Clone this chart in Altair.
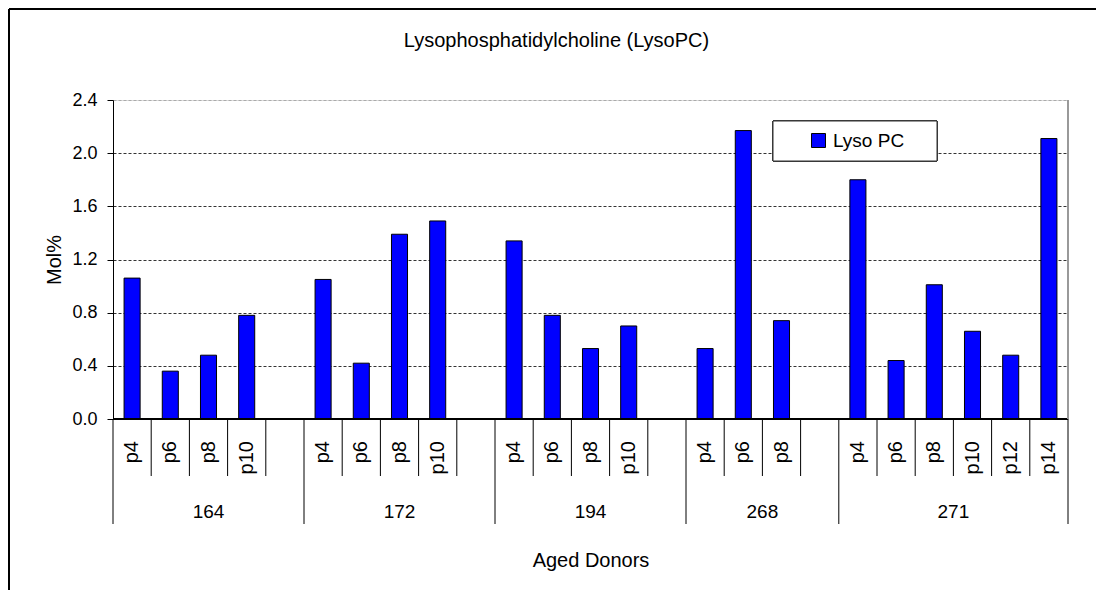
import altair as alt
import pandas as pd

# ---------------- data ----------------
donors = ["164", "172", "194", "268", "271"]
passages = [
    ["p4", "p6", "p8", "p10"],
    ["p4", "p6", "p8", "p10"],
    ["p4", "p6", "p8", "p10"],
    ["p4", "p6", "p8"],
    ["p4", "p6", "p8", "p10", "p12", "p14"],
]
lyso_pc = [
    [1.06, 0.36, 0.48, 0.78],
    [1.05, 0.42, 1.39, 1.49],
    [1.34, 0.78, 0.53, 0.70],
    [0.53, 2.17, 0.74],
    [1.80, 0.44, 1.01, 0.66, 0.48, 2.11],
]
y_ticks = [0.0, 0.4, 0.8, 1.2, 1.6, 2.0, 2.4]
series_name = "Lyso PC"
chart_title = "Lysophosphatidylcholine (LysoPC)"
x_title = "Aged Donors"
y_title = "Mol%"

# ---------------- tables built from the lists ----------------
slot_rows, group_rows = [], []
pos = 0
for gi, (d, ps, vs) in enumerate(zip(donors, passages, lyso_pc)):
    start = pos
    for p, v in zip(ps, vs):
        slot_rows.append({"pos": pos, "donor": d, "passage": p, "value": v, "series": series_name})
        pos += 1
    if gi < len(donors) - 1:
        pos += 1  # blank category between donors
    group_rows.append({"donor": d, "start": start, "end": pos})
n_slots = pos
starts = {g["start"] for g in group_rows} | {n_slots}
bound_rows = [{"b": b, "long": b in starts} for b in range(n_slots + 1)]

slots = pd.DataFrame(slot_rows)
groups = pd.DataFrame(group_rows)
bounds = pd.DataFrame(bound_rows)

W, H = 955, 319
FONT = "Liberation Sans"
xscale = alt.Scale(domain=[0, n_slots], nice=False, zero=False)
yscale = alt.Scale(domain=[0, 2.4], nice=False)

legend_box = alt.Chart(groups).mark_rect(fill="white", stroke="#333333", strokeWidth=1).encode(
    x=alt.value(660), x2=alt.value(824), y=alt.value(21), y2=alt.value(61)
)

bars = alt.Chart(slots).transform_calculate(
    x0="datum.pos + 0.29", x1="datum.pos + 0.71"
).mark_bar(stroke="black", strokeWidth=1).encode(
    x=alt.X("x0:Q", scale=xscale,
            axis=alt.Axis(title=x_title, labels=False, ticks=False, domain=False, grid=False,
                          titleY=147, titleBaseline="alphabetic", titleFontSize=20,
                          titleFontWeight="normal", titleColor="black", titleFont=FONT)),
    x2="x1:Q",
    y=alt.Y("value:Q", scale=yscale,
            axis=alt.Axis(values=y_ticks, format=".1f", title=y_title, grid=True,
                          gridDash=[3, 2], gridWidth=1,
                          gridColor={"condition": {"test": "datum.value >= 2.4", "value": "#aaaaaa"},
                                     "value": "#333333"},
                          domainColor="black", tickColor="black", tickSize=6,
                          labelFontSize=18, labelColor="black", labelPadding=10, labelFont=FONT,
                          titleFontSize=20, titleFontWeight="normal", titleColor="black",
                          titleFont=FONT, titleX=-59, titleBaseline="middle")),
    y2=alt.datum(0),
    color=alt.Color("series:N", scale=alt.Scale(range=["#0000FF"]),
                    legend=alt.Legend(title=None, orient="none", legendX=660, legendY=21,
                                      padding=10,
                                      symbolType="square", symbolSize=196,
                                      symbolStrokeColor="black", symbolStrokeWidth=1,
                                      symbolOffset=26, labelOffset=5, labelFontSize=19,
                                      labelFont=FONT, labelColor="black")),
)

baseline = alt.Chart(slots).mark_rule(color="black", strokeWidth=1).encode(
    y=alt.datum(0, scale=yscale), x=alt.value(0), x2=alt.value(W)
)
right_edge = alt.Chart(slots).mark_rule(color="#999999", strokeWidth=1).encode(
    x=alt.value(W), y=alt.value(0), y2=alt.value(H)
)

short_sep = alt.Chart(bounds).transform_filter("!datum.long").mark_rule(color="black").encode(
    x=alt.X("b:Q", scale=xscale), y=alt.value(H), y2=alt.value(H + 57)
)
long_sep = alt.Chart(bounds).transform_filter("datum.long").mark_rule(color="black").encode(
    x=alt.X("b:Q", scale=xscale), y=alt.value(H), y2=alt.value(H + 105)
)

passage_labels = alt.Chart(slots).transform_calculate(mid="datum.pos + 0.5").mark_text(
    angle=270, align="right", baseline="middle", fontSize=20, font=FONT, color="black"
).encode(x=alt.X("mid:Q", scale=xscale), y=alt.value(H + 22), text="passage:N")

group_labels = alt.Chart(groups).transform_calculate(mid="(datum.start + datum.end) / 2").mark_text(
    align="center", baseline="alphabetic", fontSize=19, font=FONT, color="black"
).encode(x=alt.X("mid:Q", scale=xscale), y=alt.value(H + 99), text="donor:N")

frame_left = alt.Chart(groups).mark_rule(color="black", strokeWidth=2).encode(
    x=alt.value(-104), y=alt.value(-91), y2=alt.value(H + 171)
)
frame_top = alt.Chart(groups).mark_rule(color="black", strokeWidth=2).encode(
    x=alt.value(-104), x2=alt.value(W + 28), y=alt.value(-91)
)

chart = alt.layer(
    legend_box, bars, baseline, right_edge, short_sep, long_sep, passage_labels, group_labels,
    frame_left, frame_top
).properties(
    width=W, height=H,
    padding={"left": 105, "top": 92, "right": 28, "bottom": 171},
    autosize=alt.AutoSizeParams(type="none"),
    title=alt.TitleParams(chart_title, fontSize=20, font=FONT, fontWeight="normal",
                          color="black", anchor="middle", dx=-34, dy=59, offset=0,
                          baseline="alphabetic"),
).configure_view(stroke=None).configure(background="white")

chart.save("out.html", embed_options={"renderer": "svg", "actions": False})
